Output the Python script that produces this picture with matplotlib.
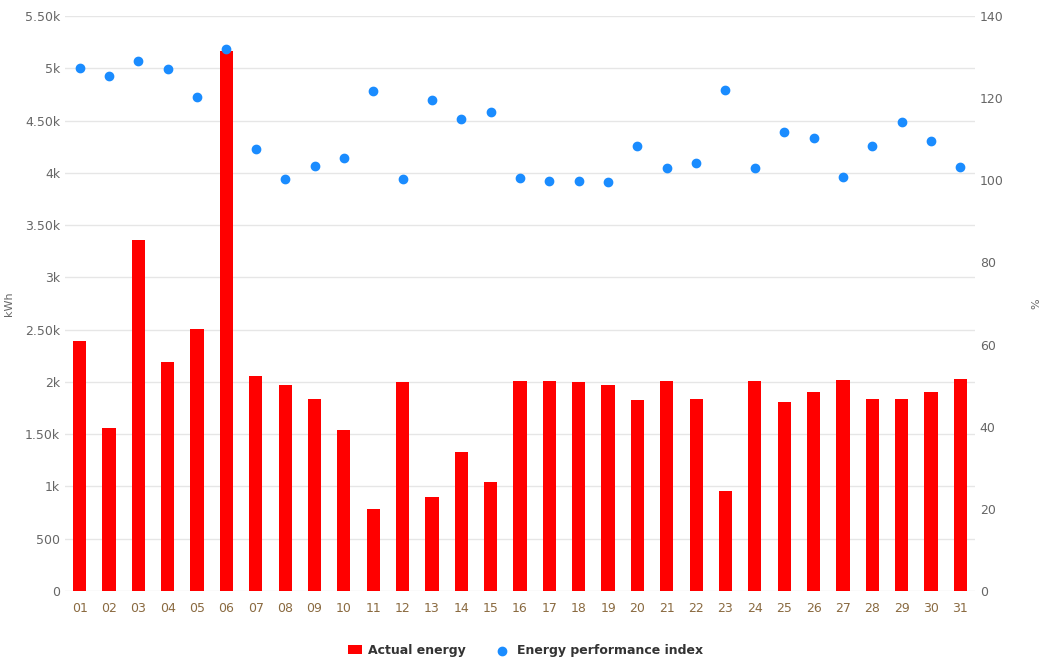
import matplotlib.pyplot as plt
from matplotlib.ticker import FuncFormatter

days = [f"{d:02d}" for d in range(1, 32)]
energy = [2390, 1555, 3357, 2190, 2506, 5165, 2058, 1970, 1832, 1540, 784, 1995, 899,
          1330, 1043, 2012, 2012, 2000, 1975, 1825, 2012, 1832, 960, 2012, 1812, 1905,
          2022, 1840, 1840, 1905, 2032]
epi = [127.3, 125.4, 129.0, 127.0, 120.3, 132.0, 107.6, 100.3, 103.5, 105.4, 121.7,
       100.3, 119.5, 114.9, 116.6, 100.6, 99.8, 99.8, 99.6, 108.4, 103.0, 104.2, 122.0,
       103.0, 111.8, 110.3, 100.8, 108.4, 114.2, 109.6, 103.2]

fig = plt.figure(figsize=(10.51, 6.65), dpi=100)
ax = fig.add_axes([65 / 1051, 74 / 665, 910 / 1051, 575 / 665])
ax2 = ax.twinx()

x = range(len(days))
ax.bar(x, energy, width=0.45, color="#ff0000", zorder=2, label="Actual energy")
ax2.scatter(x, epi, s=36, color="#1a8cff", zorder=3, label="Energy performance index")

ax.set_ylim(0, 5500)
ax.set_yticks(range(0, 5501, 500))
ax.yaxis.set_major_formatter(FuncFormatter(
    lambda v, p: "0" if v == 0 else (f"{v:.0f}" if v < 1000 else
                                     (f"{v/1000:g}k" if v % 1000 == 0 else f"{v/1000:.2f}k"))))
ax2.set_ylim(0, 140)
ax2.set_yticks(range(0, 141, 20))
ax.set_xlim(-0.5, len(days) - 0.5)
ax.set_xticks(list(x))
ax.set_xticklabels(days)

ax.grid(axis="y", color="#e6e6e6", linewidth=1, zorder=0)
for a in (ax, ax2):
    for s in a.spines.values():
        s.set_visible(False)
    a.tick_params(length=0, labelsize=9, colors="#666666")
ax.tick_params(axis="x", colors="#8a6a40", pad=8)
ax.set_ylabel("kWh", fontsize=8, color="#666666", labelpad=8)
ax2.set_ylabel("%", fontsize=8, color="#666666", labelpad=20)

h1, l1 = ax.get_legend_handles_labels()
h2, l2 = ax2.get_legend_handles_labels()
leg = fig.legend(h1 + h2, l1 + l2, loc="lower center", ncol=2, frameon=False,
                 bbox_to_anchor=(0.5, -0.005), fontsize=9, handlelength=0.8,
                 columnspacing=2.5, prop={"weight": "bold", "size": 9})
leg.legend_handles[0].set_width(10)
for t in leg.get_texts():
    t.set_color("#333333")

fig.savefig("out.png", dpi=100)
